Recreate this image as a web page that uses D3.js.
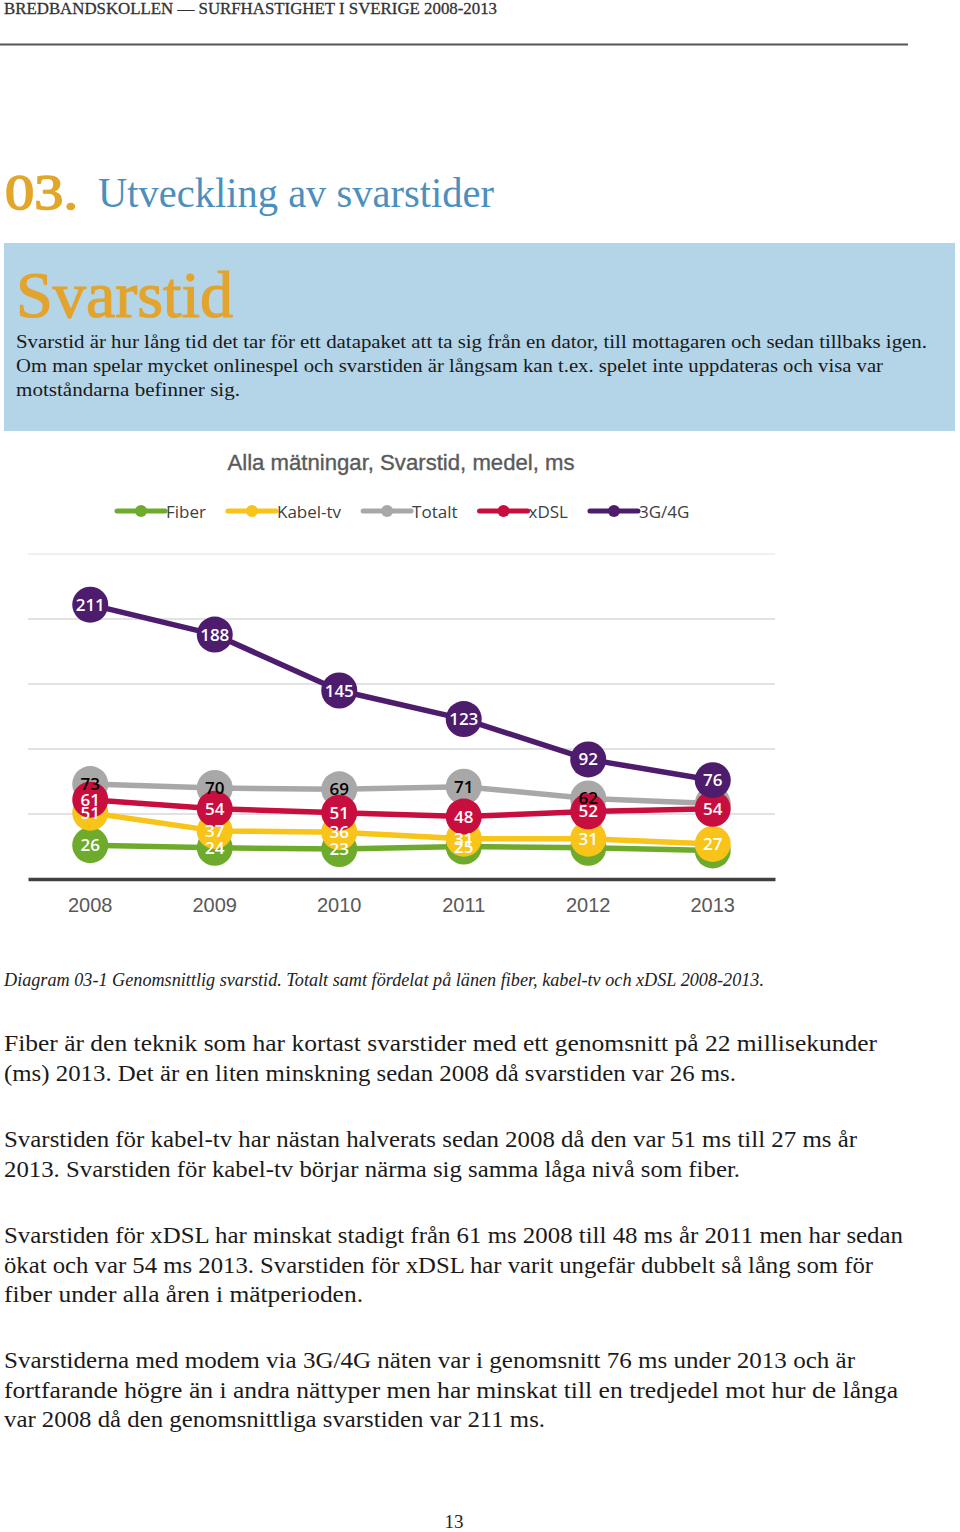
<!DOCTYPE html>
<html><head><meta charset="utf-8">
<script src="https://cdn.jsdelivr.net/npm/d3@7"></script>
<style>body{margin:0;background:#fff}svg{display:block}</style>
</head><body>
<svg id="page" width="960" height="1532"></svg>
<script>
// ---------- data ----------
const years = ["2008","2009","2010","2011","2012","2013"];
const seriesNames = ["Fiber","Kabel-tv","Totalt","xDSL","3G/4G"];
const fiber  = [26, 24, 23, 25, 24, 22];
const kabel  = [51, 37, 36, 31, 31, 27];
const totalt = [73, 70, 69, 71, 62, 58];
const xdsl   = [61, 54, 51, 48, 52, 54];
const g34    = [211, 188, 145, 123, 92, 76];
const gridTicks = [0, 50, 100, 150, 200, 250];
// data labels not shown in the original (hidden behind other markers)
const hiddenLabels = {"Fiber":["2012","2013"], "Totalt":["2013"]};
const seriesColors = ["#6eab2c","#f8c419","#a8a8a8","#c80e3f","#4d1c6d"];
const labelColors  = ["#fff","#fff","#000","#fff","#fff"];

const seriesValues = [fiber, kabel, totalt, xdsl, g34];
const series = seriesNames.map((n,i)=>({name:n, values:seriesValues[i], color:seriesColors[i], lc:labelColors[i]}));

const svg = d3.select("#page");
const serif = "'Liberation Serif', 'Times New Roman', serif";

function txt(x, y, s, o){
  const t = svg.append("text").attr("x",x).attr("y",y).text(s)
    .attr("font-family", o.family||serif).attr("font-size",o.size)
    .attr("fill", o.fill||"#222");
  if(o.weight) t.attr("font-weight",o.weight);
  if(o.style) t.attr("font-style",o.style);
  if(o.len) t.attr("textLength",o.len).attr("lengthAdjust","spacingAndGlyphs");
  if(o.anchor) t.attr("text-anchor",o.anchor);
  if(o.stroke) t.attr("stroke",o.stroke).attr("stroke-width",o.sw||0.5);
  return t;
}

// ---------- page header ----------
txt(4, 14, "BREDBANDSKOLLEN — SURFHASTIGHET I SVERIGE 2008-2013", {size:16, len:493, fill:"#333", stroke:"#333", sw:0.3});
svg.append("line").attr("x1",0).attr("x2",908).attr("y1",44.5).attr("y2",44.5).attr("stroke","#555").attr("stroke-width",2);

txt(5, 209, "03.", {size:50, fill:"#e2a72a", len:73, stroke:"#e2a72a", sw:1.6});
txt(98, 207, "Utveckling av svarstider", {size:42, fill:"#4b90bd", len:396});

// ---------- blue box ----------
svg.append("rect").attr("x",4).attr("y",243).attr("width",951).attr("height",188).attr("fill","#b4d4e8");
txt(16, 317, "Svarstid", {size:66, fill:"#e2a42e", len:217, stroke:"#e2a42e", sw:1.2});
const boxLines = [
  ["Svarstid är hur lång tid det tar för ett datapaket att ta sig från en dator, till mottagaren och sedan tillbaks igen.", 911],
  ["Om man spelar mycket onlinespel och svarstiden är långsam kan t.ex. spelet inte uppdateras och visa var", 867],
  ["motståndarna befinner sig.", 224]
];
boxLines.forEach((l,i)=> txt(16, 348 + i*24, l[0], {size:19.5, fill:"#1a1a1a", len:l[1]}));

// ---------- chart ----------
txt(401, 470, "Alla mätningar, Svarstid, medel, ms", {family:"'Liberation Sans', Arial, sans-serif", size:21.5, fill:"#5a5a5a", anchor:"middle", stroke:"#5a5a5a", sw:0.35, len:347});

// legend
const leg = svg.append("g");
let lx = 117;
series.forEach(s=>{
  const g = leg.append("g").attr("transform",`translate(${lx},511)`);
  g.append("line").attr("x1",0).attr("x2",48).attr("y1",0).attr("y2",0).attr("stroke",s.color).attr("stroke-width",5).attr("stroke-linecap","round");
  g.append("circle").attr("cx",24).attr("cy",0).attr("r",6).attr("fill",s.color);
  const t = g.append("text").attr("x",49).attr("y",6.5).text(s.name)
    .attr("font-family","'Open Sans', sans-serif").attr("font-size",17).attr("fill","#404040");
  lx += 49 + t.node().getComputedTextLength() + 22;
});

const x = d3.scaleBand().domain(years).range([28, 775]).padding(0);
const cx = d => x(d) + x.bandwidth()/2;
const y = d3.scaleLinear().domain([0, 250]).range([879, 554]);

// gridlines
svg.append("g").selectAll("line").data(gridTicks.filter(d=>d>0)).join("line")
  .attr("x1",28).attr("x2",775).attr("y1",d=>y(d)).attr("y2",d=>y(d))
  .attr("stroke",d=> d===250 ? "#f0f0f0" : "#e2e2e2").attr("stroke-width",2);

// x axis
const xAxis = svg.append("g").attr("transform","translate(0,879)")
  .call(d3.axisBottom(x).tickSize(0).tickPadding(19));
xAxis.select(".domain").attr("stroke","#404040").attr("stroke-width",3.5);
xAxis.selectAll("text").attr("font-family","'Liberation Sans', Arial, sans-serif").attr("font-size",20).attr("fill","#595959");

// series
const line = d3.line().x((d,i)=>cx(years[i])).y(d=>y(d));
series.forEach(s=>{
  const g = svg.append("g");
  g.append("path").datum(s.values).attr("d",line).attr("fill","none").attr("stroke",s.color).attr("stroke-width",5.5).attr("stroke-linejoin","round");
  g.selectAll("circle").data(s.values).join("circle")
    .attr("cx",(d,i)=>cx(years[i])).attr("cy",d=>y(d)).attr("r",18).attr("fill",s.color);
});
// labels on top
series.forEach(s=>{
  const hide = hiddenLabels[s.name] || [];
  const pts = s.values.map((v,i)=>({v, yr:years[i]})).filter(p=>!hide.includes(p.yr));
  svg.append("g").selectAll("text").data(pts).join("text")
    .attr("x",p=>cx(p.yr)).attr("y",p=>y(p.v)+6).attr("text-anchor","middle")
    .attr("font-family","'Open Sans', sans-serif").attr("font-weight",600).attr("font-size",17)
    .attr("fill",s.lc).text(p=>p.v);
});

// ---------- caption ----------
txt(4, 986, "Diagram 03-1 Genomsnittlig svarstid. Totalt samt fördelat på länen fiber, kabel-tv och xDSL 2008-2013.", {size:18, style:"italic", fill:"#222", len:760});

// ---------- body text ----------
const paras = [
  {y:1051, lines:[["Fiber är den teknik som har kortast svarstider med ett genomsnitt på 22 millisekunder",873],["(ms) 2013. Det är en liten minskning sedan 2008 då svarstiden var 26 ms.",732]]},
  {y:1147, lines:[["Svarstiden för kabel-tv har nästan halverats sedan 2008 då den var 51 ms till 27 ms år",853],["2013. Svarstiden för kabel-tv börjar närma sig samma låga nivå som fiber.",736]]},
  {y:1243, lines:[["Svarstiden för xDSL har minskat stadigt från 61 ms 2008 till 48 ms år 2011 men har sedan",899],["ökat och var 54 ms 2013. Svarstiden för xDSL har varit ungefär dubbelt så lång som för",869],["fiber under alla åren i mätperioden.",359]]},
  {y:1368, lines:[["Svarstiderna med modem via 3G/4G näten var i genomsnitt 76 ms under 2013 och är",851],["fortfarande högre än i andra nättyper men har minskat till en tredjedel mot hur de långa",894],["var 2008 då den genomsnittliga svarstiden var 211 ms.",541]]}
];
paras.forEach(p=> p.lines.forEach((l,i)=> txt(4, p.y + i*29.5, l[0], {size:23, fill:"#1a1a1a", len:l[1]})));

txt(454, 1528, "13", {size:19, fill:"#222", anchor:"middle"});
</script>
</body></html>
